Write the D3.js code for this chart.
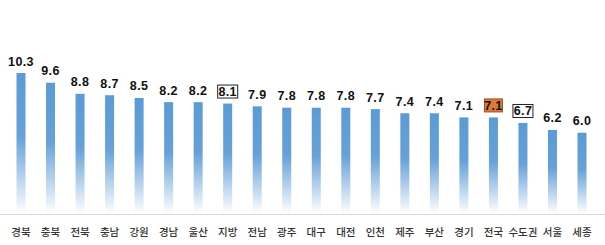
<!DOCTYPE html>
<html>
<head>
<meta charset="utf-8">
<script src="https://cdn.jsdelivr.net/npm/d3@7"></script>
<style>
  body { margin: 0; background: #fff; }
</style>
</head>
<body>
<div id="chart"></div>
<script>
    // regions and values
    const regions = ["경북", "충북", "전북", "충남", "강원", "경남", "울산", "지방", "전남", "광주",
                     "대구", "대전", "인천", "제주", "부산", "경기", "전국", "수도권", "서울", "세종"];
    const values = [10.3, 9.6, 8.8, 8.7, 8.5, 8.2, 8.2, 8.1, 7.9, 7.8,
                    7.8, 7.8, 7.7, 7.4, 7.4, 7.1, 7.1, 6.7, 6.2, 6.0];
    // labels drawn inside a box
    const boxed = ["지방", "수도권"];
    const highlighted = ["전국"];

    const width = 605, height = 245;

    const svg = d3.select("#chart")
        .append("svg")
        .attr("width", width)
        .attr("height", height);

    const x = d3.scalePoint()
        .domain(regions)
        .range([21, 582]);

    const y = d3.scaleLinear()
        .domain([0, 10.3])
        .range([216, 73]);

    const barW = 9;

    const grad = svg.append("defs").append("linearGradient")
        .attr("id", "fade")
        .attr("x1", 0).attr("y1", 0).attr("x2", 0).attr("y2", 1);
    grad.append("stop").attr("offset", "0").attr("stop-color", "#5b9bd5");
    grad.append("stop").attr("offset", "0.45").attr("stop-color", "#66a1d8");
    grad.append("stop").attr("offset", "1").attr("stop-color", "#ffffff");

    // baseline
    svg.append("line")
        .attr("x1", 0).attr("x2", width)
        .attr("y1", y(0) - 1.5).attr("y2", y(0) - 1.5)
        .attr("stroke", "#d9d9d9")
        .attr("stroke-width", 1);

    svg.selectAll("rect.bar")
        .data(values)
        .join("rect")
        .attr("class", "bar")
        .attr("x", (d, i) => x(regions[i]) - barW / 2)
        .attr("y", d => y(d))
        .attr("width", barW)
        .attr("height", d => y(0) - y(d) - 2)
        .attr("fill", "url(#fade)");

    // boxes behind some value labels
    regions.forEach((r, i) => {
        if (!boxed.includes(r) && !highlighted.includes(r)) return;
        const hl = highlighted.includes(r);
        const w = hl ? 18 : 20;
        svg.append("rect")
            .attr("x", x(r) - w / 2)
            .attr("y", y(values[i]) - 18.5)
            .attr("width", w)
            .attr("height", 13)
            .attr("fill", hl ? "#e07a3a" : "#ffffff")
            .attr("stroke", hl ? "#9c4f1f" : "#222")
            .attr("stroke-width", 1);
    });

    svg.selectAll("text.val")
        .data(values)
        .join("text")
        .attr("class", "val")
        .attr("x", (d, i) => x(regions[i]))
        .attr("y", d => y(d) - 7.5)
        .attr("text-anchor", "middle")
        .attr("font-family", "Liberation Sans, Arial, sans-serif")
        .attr("font-weight", "bold")
        .attr("font-size", 12.5)
        .attr("letter-spacing", 0.4)
        .attr("fill", "#111")
        .text(d => d.toFixed(1));

    svg.selectAll("text.cat")
        .data(regions)
        .join("text")
        .attr("class", "cat")
        .attr("x", d => x(d))
        .attr("y", 236)
        .attr("text-anchor", "middle")
        .attr("font-family", "Noto Sans CJK KR, sans-serif")
        .attr("font-weight", 500)
        .attr("font-size", 10.5)
        .attr("fill", "#333")
        .text(d => d);
</script>
</body>
</html>
